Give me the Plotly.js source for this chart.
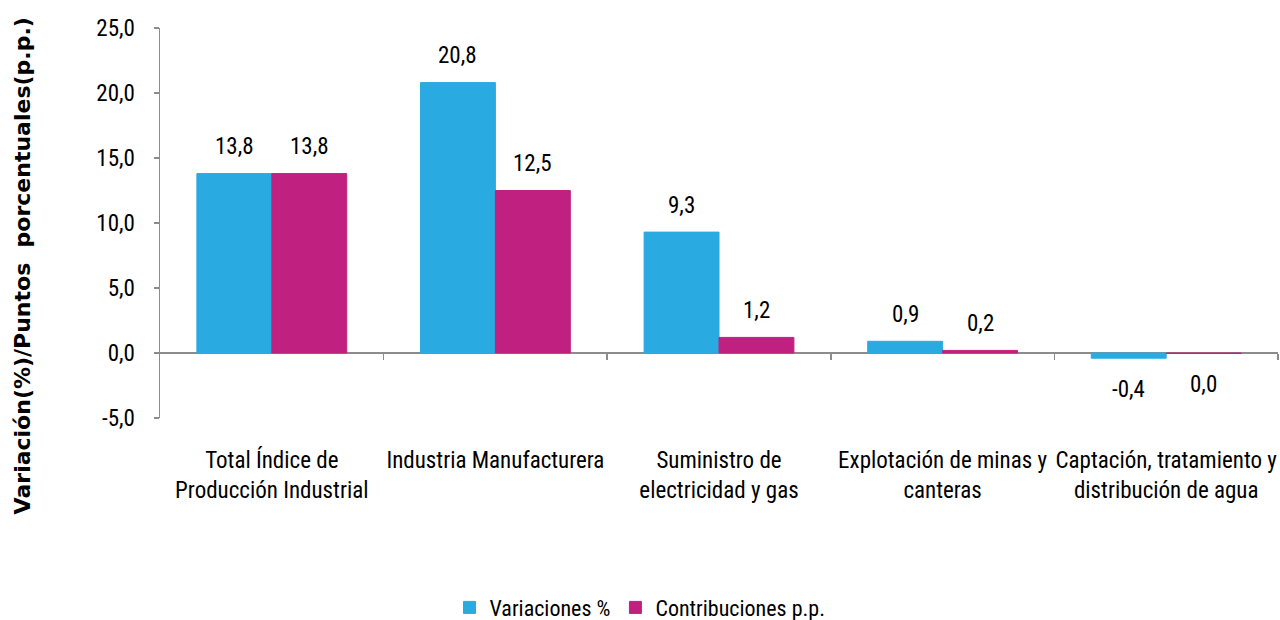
<!DOCTYPE html>
<html>
<head>
<meta charset="utf-8">
<script src="https://cdn.plot.ly/plotly-3.0.1.min.js"></script>
<style>html,body{margin:0;padding:0;background:#fff;}#chart{width:1280px;height:620px;}</style>
</head>
<body>
<div id="chart"></div>
<script>
const categories = [
  "Total Índice de<br>Producción Industrial",
  "Industria Manufacturera",
  "Suministro de<br>electricidad y gas",
  "Explotación de minas y<br>canteras",
  "Captación, tratamiento y<br>distribución de agua"
];
const seriesNames = ["Variaciones %", "Contribuciones p.p."];
const variaciones = [13.8, 20.8, 9.3, 0.9, -0.4];
const contribuciones = [13.8, 12.5, 1.2, 0.2, -0.04];
const yTickVals = [-5, 0, 5, 10, 15, 20, 25];
const yRange = [-5, 25];
const yTitle = "Variación(%)/Puntos  porcentuales(p.p.)";

const BLUE = "#29ABE2", MAGENTA = "#C0207F", AXIS = "#8c8c8c";
const FONT = "Roboto Condensed, Open Sans, sans-serif";
const FS = 23;

function fmt(v) {
  let s = v.toFixed(1);
  if (parseFloat(s) === 0) s = "0.0";
  return s.replace(".", ",");
}

const traces = [
  {type: "bar", name: seriesNames[0], x: categories, y: variaciones, marker: {color: BLUE, line: {color: BLUE, width: 1}}, hoverinfo: "skip"},
  {type: "bar", name: seriesNames[1], x: categories, y: contribuciones, marker: {color: MAGENTA, line: {color: MAGENTA, width: 1}}, hoverinfo: "skip"},
  {type: "scatter", x: [0], y: [null], xaxis: "x2", yaxis: "y", showlegend: false, hoverinfo: "skip", mode: "markers"}
];

const annotations = [];
[[variaciones, -37.5], [contribuciones, 37.5]].forEach(([vals, dx]) => {
  vals.forEach((v, i) => {
    annotations.push({
      x: categories[i], y: v, xref: "x", yref: "y",
      text: fmt(v), showarrow: false, xshift: dx,
      yshift: v >= 0 ? 27 : -31, yanchor: "middle",
      font: {family: FONT, size: FS, color: "#000"}
    });
  });
});
annotations.push({
  text: "<b>" + yTitle + "</b>",
  xref: "paper", yref: "paper", x: -0.123, y: 0.39,
  xanchor: "center", yanchor: "middle", textangle: -90, showarrow: false,
  font: {family: "DejaVu Sans, Verdana, sans-serif", size: 22, color: "#000"}
});

const layout = {
  width: 1280, height: 620,
  margin: {l: 160, r: 2, t: 28, b: 202},
  paper_bgcolor: "#fff", plot_bgcolor: "#fff",
  separators: ",.",
  barmode: "group", bargap: 0.33, bargroupgap: 0,
  font: {family: FONT, size: FS, color: "#000"},
  showlegend: true,
  legend: {orientation: "h", xref: "container", yref: "container", x: 0.5, xanchor: "center", y: 0.02, yanchor: "middle",
           font: {family: FONT, size: 22}, itemwidth: 30, tracegroupgap: 0},
  xaxis: {
    type: "category", range: [-0.5, 4.5], showline: false, ticks: "", showgrid: false, zeroline: false,
    ticklabelstandoff: 26, tickfont: {family: FONT, size: FS, color: "#000"}, fixedrange: true
  },
  xaxis2: {
    overlaying: "x", anchor: "free", position: (0 - yRange[0]) / (yRange[1] - yRange[0]), side: "bottom",
    range: [-0.5, 4.5], tickmode: "array", tickvals: [0.5, 1.5, 2.5, 3.5, 4.5], ticks: "outside", ticklen: 6,
    tickcolor: AXIS, tickwidth: 1.5, showticklabels: false, showline: true, linecolor: AXIS, linewidth: 2,
    showgrid: false, zeroline: false, layer: "below traces"
  },
  yaxis: {
    range: yRange, tickmode: "array", tickvals: yTickVals, ticktext: yTickVals.map(fmt),
    showline: true, linecolor: AXIS, linewidth: 1.5, ticks: "outside", ticklen: 5, tickcolor: AXIS, tickwidth: 1.5,
    showgrid: false, zeroline: false, ticklabelstandoff: 14,
    tickfont: {family: FONT, size: FS, color: "#000"}
  },
  annotations: annotations
};

Plotly.newPlot("chart", traces, layout, {staticPlot: true, displayModeBar: false});
</script>
</body>
</html>
